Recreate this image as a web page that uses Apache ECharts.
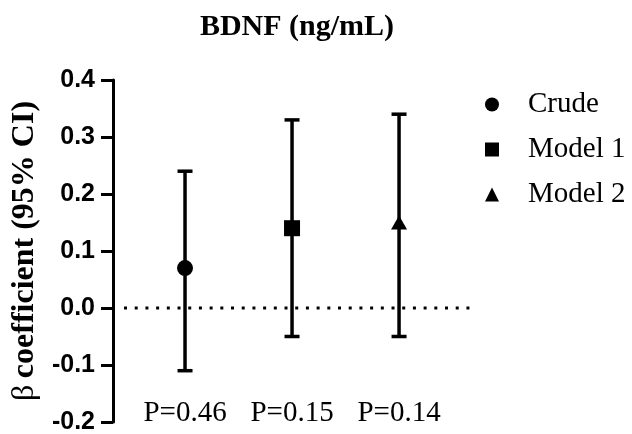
<!DOCTYPE html>
<html>
<head>
<meta charset="utf-8">
<script src="https://cdn.jsdelivr.net/npm/echarts@6/dist/echarts.min.js"></script>
<style>html,body{margin:0;padding:0;background:#fff}#c{width:632px;height:434px}</style>
</head>
<body>
<div id="c"></div>
<script>
const models = ['Crude', 'Model 1', 'Model 2'];
const symbols = ['circle', 'rect', 'triangle'];
const betas = [0.07, 0.14, 0.15];
const ciLow = [-0.11, -0.05, -0.05];
const ciHigh = [0.24, 0.33, 0.34];
const pLabels = ['P=0.46', 'P=0.15', 'P=0.14'];
const yTicks = [-0.2, -0.1, 0.0, 0.1, 0.2, 0.3, 0.4];

const serif = '"Liberation Serif", "Times New Roman", serif';
const sans = '"Liberation Sans", Arial, sans-serif';

const chart = echarts.init(document.getElementById('c'), null, {renderer: 'canvas'});

const xs = models.map((m, i) => i + 1);

const errData = models.map((m, i) => [xs[i], ciLow[i], ciHigh[i]]);
const pData = models.map((m, i) => [xs[i], yTicks[0]]);

const series = [];
series.push({
  type: 'line',
  data: [[0.43, 0], [3.66, 0]],
  symbol: 'none',
  silent: true,
  lineStyle: {color: '#000', width: 3, type: [3, 7.7], cap: 'butt'},
  z: 1
});
series.push({
  type: 'custom',
  data: errData,
  silent: true,
  z: 2,
  renderItem: function (params, api) {
    const x = api.value(0);
    const lo = api.coord([x, api.value(1)]);
    const hi = api.coord([x, api.value(2)]);
    const hw = 7.5;
    const st = {stroke: '#000', lineWidth: 3.5};
    return {type: 'group', children: [
      {type: 'line', shape: {x1: lo[0], y1: lo[1], x2: hi[0], y2: hi[1]}, style: st},
      {type: 'line', shape: {x1: hi[0] - hw, y1: hi[1], x2: hi[0] + hw, y2: hi[1]}, style: st},
      {type: 'line', shape: {x1: lo[0] - hw, y1: lo[1], x2: lo[0] + hw, y2: lo[1]}, style: st}
    ]};
  }
});
series.push({
  type: 'custom',
  data: pData,
  silent: true,
  renderItem: function (params, api) {
    const p = api.coord([api.value(0), api.value(1)]);
    return {type: 'text', x: p[0], y: p[1] - 9, style: {
      text: pLabels[params.dataIndex], align: 'center', verticalAlign: 'middle',
      font: '29px ' + serif, fill: '#000'}};
  }
});
models.forEach((m, i) => {
  series.push({
    name: m,
    type: 'scatter',
    symbol: symbols[i],
    symbolSize: i === 2 ? [16, 14] : 16,
    symbolKeepAspect: true,
    itemStyle: {color: '#000', opacity: 1},
    data: [[xs[i], betas[i]]],
    z: 5
  });
});

chart.setOption({
  animation: false,
  backgroundColor: '#fff',
  title: {
    text: 'BDNF (ng/mL)',
    left: 292, top: 7, textAlign: 'center',
    textStyle: {fontFamily: serif, fontWeight: 'bold', fontSize: 30, color: '#000'}
  },
  legend: {
    data: models,
    orient: 'vertical',
    left: 480, top: 85,
    itemWidth: 14, itemHeight: 14, itemGap: 16,
    itemStyle: {opacity: 1},
    textStyle: {fontFamily: serif, fontSize: 29, lineHeight: 29, color: '#000', padding: [0, 0, 0, 24]}
  },
  grid: {left: 113, right: 162, top: 80, bottom: 12, outerBoundsMode: 'none'},
  xAxis: {type: 'value', min: 0.327, max: 3.663, show: false},
  yAxis: {
    type: 'value', min: yTicks[0], max: yTicks[yTicks.length - 1], interval: 0.1,
    axisLine: {show: true, lineStyle: {color: '#000', width: 3}},
    axisTick: {show: true, length: 12, lineStyle: {color: '#000', width: 3}},
    axisLabel: {fontFamily: sans, fontWeight: 'bold', fontSize: 25, color: '#000', margin: 18,
      formatter: v => v.toFixed(1)},
    splitLine: {show: false},
    name: '{b|β}  {a|coefficient (95% CI)}',
    nameLocation: 'middle', nameRotate: 90, nameGap: 70,
    nameTextStyle: {color: '#000', rich: {
      a: {fontFamily: serif, fontWeight: 'bold', fontSize: 32, color: '#000'},
      b: {fontFamily: serif, fontWeight: 'normal', fontSize: 32, color: '#000'}
    }}
  },
  series: series
});
</script>
</body>
</html>
